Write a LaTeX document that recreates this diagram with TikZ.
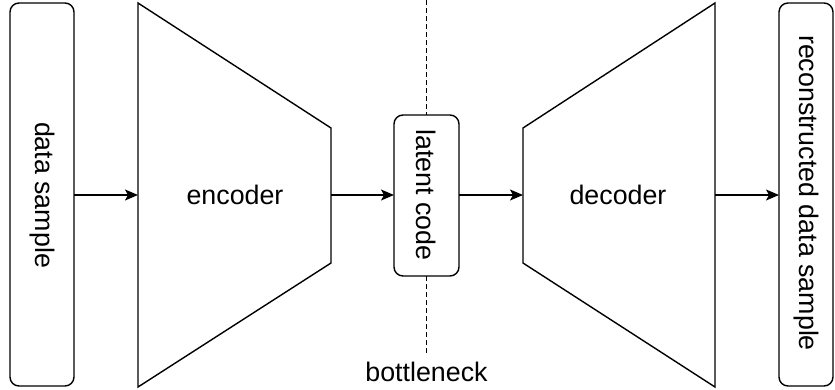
\documentclass[tikz,border=0pt]{standalone}
\usepackage{fontspec}
\setmainfont{Liberation Sans}
\usetikzlibrary{arrows.meta}
\begin{document}
\begin{tikzpicture}[x=1pt,y=-1pt,
  line width=1.4pt,
  txt/.style={font=\fontsize{26.8}{30}\selectfont},
  roundbox/.style={draw, rounded corners=9pt, inner sep=0pt},
  link/.style={-{Stealth[length=13pt,width=11pt,inset=3pt]}},
  marker/.style={line width=1.3pt, dash pattern=on 4.5pt off 3.5pt},
]
\useasboundingbox (0,0) rectangle (835,389);

% input and output boxes
\draw[roundbox] (10,3) rectangle (74,386);
\node[txt, rotate=-90] (in) at (42,195) {data sample};
\coordinate (inR) at (74,195);

\draw[roundbox] (779,3) rectangle (833,386);
\node[txt, rotate=-90] (out) at (806,193) {reconstructed data sample};
\coordinate (outL) at (779,195);

% encoder trapezoid
\coordinate (e1) at (138,3);
\coordinate (e2) at (331,128);
\coordinate (e3) at (331,263);
\coordinate (e4) at (138,387);
\draw (e1) -- (e2) -- (e3) -- (e4) -- cycle;
\node[txt] (enc) at (235,195) {encoder};
\coordinate (encL) at (138,195);
\coordinate (encR) at (331,195);

% decoder trapezoid
\coordinate (d1) at (523,128);
\coordinate (d2) at (715,3);
\coordinate (d3) at (715,387);
\coordinate (d4) at (523,263);
\draw (d1) -- (d2) -- (d3) -- (d4) -- cycle;
\node[txt] (dec) at (618,195) {decoder};
\coordinate (decL) at (523,195);
\coordinate (decR) at (715,195);

% latent code
\draw[roundbox] (394,115) rectangle (459,276);
\node[txt, rotate=-90] (lat) at (426.5,195) {latent code};
\coordinate (latL) at (394,195);
\coordinate (latR) at (459,195);
\coordinate (latT) at (426.5,115);
\coordinate (latB) at (426.5,276);

% bottleneck marker
\coordinate (bnTop) at (426.5,0);
\coordinate (bnBot) at (426.5,355);
\draw[marker] (bnTop) -- (latT);
\draw[marker] (latB) -- (bnBot);
\node[txt] (bn) at (426.5,372) {bottleneck};

% data flow
\draw[link] (inR) -- (encL);
\draw[link] (encR) -- (latL);
\draw[link] (latR) -- (decL);
\draw[link] (decR) -- (outL);
\end{tikzpicture}
\end{document}
